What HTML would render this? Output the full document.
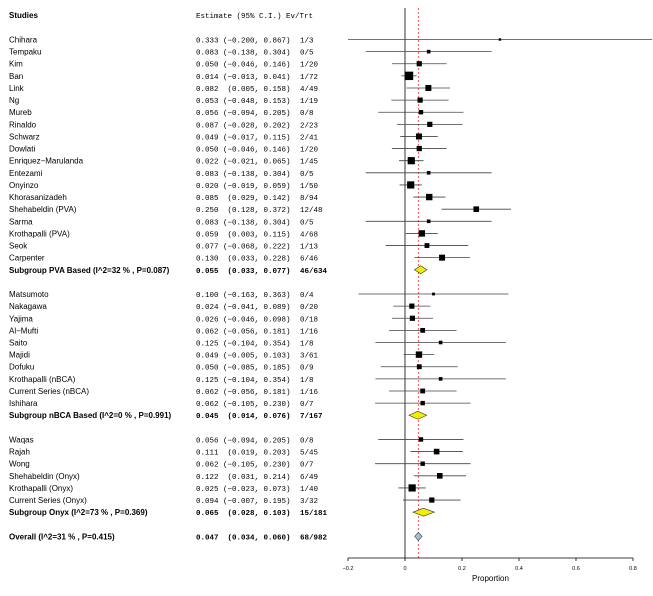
<!DOCTYPE html>
<html><head><meta charset="utf-8"><style>
body{margin:0;background:#fff}
svg text{font-family:"Liberation Sans",sans-serif;font-size:8px;fill:#000;white-space:pre}
svg text.m{font-family:"Liberation Mono",monospace;font-size:7.5px}
</style></head><body>
<svg id="c" width="653" height="591" viewBox="0 0 653 591" xmlns="http://www.w3.org/2000/svg"></svg>
<script>
const studies=["Chihara","Tempaku","Kim","Ban","Link","Ng","Mureb","Rinaldo","Schwarz","Dowlati","Enriquez\u2212Marulanda","Entezami","Onyinzo","Khorasanizadeh","Shehabeldin (PVA)","Sarma","Krothapalli (PVA)","Seok","Carpenter",
"Matsumoto","Nakagawa","Yajima","Al\u2212Mufti","Saito","Majidi","Dofuku","Krothapalli (nBCA)","Current Series (nBCA)","Ishihara",
"Waqas","Rajah","Wong","Shehabeldin (Onyx)","Krothapalli (Onyx)","Current Series (Onyx)"];
const est=[0.333,0.083,0.050,0.014,0.082,0.053,0.056,0.087,0.049,0.050,0.022,0.083,0.020,0.085,0.250,0.083,0.059,0.077,0.130,
0.100,0.024,0.026,0.062,0.125,0.049,0.050,0.125,0.062,0.062,
0.056,0.111,0.062,0.122,0.025,0.094];
const lo=[-0.200,-0.138,-0.046,-0.013,0.005,-0.048,-0.094,-0.028,-0.017,-0.046,-0.021,-0.138,-0.019,0.029,0.128,-0.138,0.003,-0.068,0.033,
-0.163,-0.041,-0.046,-0.056,-0.104,-0.005,-0.085,-0.104,-0.056,-0.105,
-0.094,0.019,-0.105,0.031,-0.023,-0.007];
const hi=[0.867,0.304,0.146,0.041,0.158,0.153,0.205,0.202,0.115,0.146,0.065,0.304,0.059,0.142,0.372,0.304,0.115,0.222,0.228,
0.363,0.089,0.098,0.181,0.354,0.103,0.185,0.354,0.181,0.230,
0.205,0.203,0.230,0.214,0.073,0.195];
const evtrt=["1/3","0/5","1/20","1/72","4/49","1/19","0/8","2/23","2/41","1/20","1/45","0/5","1/50","8/94","12/48","0/5","4/68","1/13","6/46",
"0/4","0/20","0/18","1/16","1/8","3/61","0/9","1/8","1/16","0/7",
"0/8","5/45","0/7","6/49","1/40","3/32"];
const boxSize=[1.2,1.8,2.6,4.2,3,2.6,2.2,2.6,3,2.6,3.6,1.8,3.6,3.2,2.8,1.8,3.2,2.4,3,
1.4,2.6,2.6,2.4,1.8,3.2,2.4,1.8,2.4,2.2,
2.2,2.8,2.2,2.8,3.6,2.6];
const groupRow=[0,0,0,0,0,0,0,0,0,0,0,0,0,0,0,0,0,0,0,1,1,1,1,1,1,1,1,1,1,2,2,2,2,2,2];
const subLabels=["Subgroup PVA Based (I^2=32 % , P=0.087)","Subgroup nBCA Based (I^2=0 % , P=0.991)","Subgroup Onyx (I^2=73 % , P=0.369)"];
const subEst=[0.055,0.045,0.065], subLo=[0.033,0.014,0.028], subHi=[0.077,0.076,0.103];
const subEv=["46/634","7/167","15/181"];
const overall={label:"Overall (I^2=31 % , P=0.415)",est:0.047,lo:0.034,hi:0.060,ev:"68/982"};
const ticks=[-0.2,0,0.2,0.4,0.6,0.8];

const svg=document.getElementById('c');
const NS="http://www.w3.org/2000/svg";
const X=v=>405+v*285;
const Y=i=>39.5+i*12.12;
function el(t,a,txt){const e=document.createElementNS(NS,t);for(const k in a)e.setAttribute(k,a[k]);if(txt!==undefined)e.textContent=txt;svg.appendChild(e);return e;}
const f=v=>v.toFixed(3).replace('-','\u2212');
function ci(l,h){return l<0?"("+f(l)+", "+f(h)+")":" ("+f(l)+", "+f(h)+")";}

let e;
e=el('text',{x:9,y:18,'font-weight':'bold'},"Studies");


e=el('text',{x:196,y:18,class:'m'},"Estimate (95% C.I.) Ev/Trt");



e=el('line',{x1:X(0),y1:8,x2:X(0),y2:558,stroke:'#000','stroke-width':0.8});


e=el('line',{x1:X(overall.est),y1:8,x2:X(overall.est),y2:558,stroke:'#f55','stroke-width':1,'stroke-dasharray':'2,2'});



let row=0,prevG=0;
studies.forEach((s,i)=>{
  if(groupRow[i]!==prevG){row+=2;prevG=groupRow[i];}
  const ri=row+i;const y=Y(ri);
  e=el('text',{x:9,y:y+3},s);
  
  
  e=el('text',{x:196,y:y+3,class:'m'},f(est[i])+" "+ci(lo[i],hi[i]));
  
  
  e=el('text',{x:300,y:y+3,class:'m'},evtrt[i]);
  
  
  e=el('line',{x1:X(lo[i]),y1:y,x2:Math.min(X(hi[i]),653),y2:y,stroke:'#444','stroke-width':0.8});
  
  
  const b=boxSize[i];
  e=el('rect',{x:X(est[i])-b,y:y-b,width:2*b,height:2*b,fill:'#000'});
  
  
});
const subRows=[19,31,39];
function diamond(yi,l,m,h,col,lab,ev,name){
  const y=Y(yi);
  e=el('text',{x:9,y:y+3,'font-weight':'bold'},lab);
  
  
  e=el('text',{x:196,y:y+3,class:'m','font-weight':'bold'},f(m)+" "+ci(l,h));
  
  
  e=el('text',{x:300,y:y+3,class:'m','font-weight':'bold'},ev);
  
  
  e=el('polygon',{points:`${X(l)},${y} ${X(m)},${y-4} ${X(h)},${y} ${X(m)},${y+4}`,fill:col,stroke:'#333','stroke-width':0.6});
  
  
}
subLabels.forEach((l,k)=>diamond(subRows[k],subLo[k],subEst[k],subHi[k],'#f2ee00',l,subEv[k],'subgroup'));
diamond(41,overall.lo,overall.est,overall.hi,'#9cc3d8',overall.label,overall.ev,'overall');

e=el('line',{x1:X(-0.2),y1:558,x2:X(0.8),y2:558,stroke:'#000','stroke-width':0.8});


ticks.forEach(t=>{
  e=el('line',{x1:X(t),y1:558,x2:X(t),y2:561,stroke:'#000','stroke-width':0.8});
  
  
  e=el('text',{x:X(t),y:570,'text-anchor':'middle',style:'font-size:5.5px'},String(t).replace('-','\u2212'));
  
  
});
e=el('text',{x:X(0.3),y:581,'text-anchor':'middle'},"Proportion");


</script>
</body></html>
